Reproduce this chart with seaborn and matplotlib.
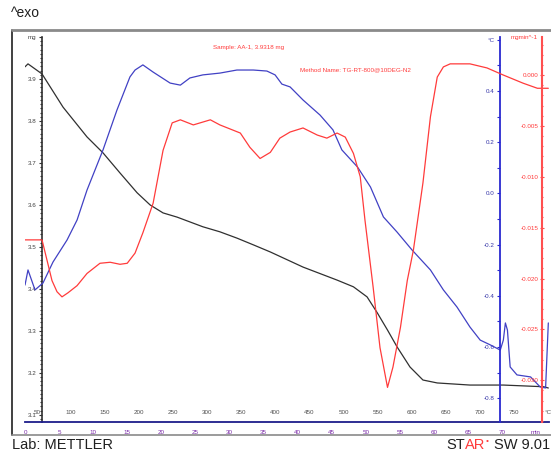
import matplotlib
matplotlib.use("Agg")
import matplotlib.pyplot as plt
import matplotlib.ticker as mticker
from matplotlib.lines import Line2D
import seaborn as sns

# TG curve (black, mg) against time in min
tg_time = [0.0, 0.44, 2.5, 5.58, 9.1, 11.45, 13.95, 16.45, 18.36, 20.26, 22.32,
           26.1, 28.6, 31.1, 33.5, 36.0, 40.8, 45.8, 48.2, 50.2, 51.7, 53.2,
           54.6, 56.5, 58.4, 60.5, 65.3, 70.2, 76.1, 76.8]
tg_mass = [3.929, 3.936, 3.912, 3.833, 3.762, 3.724, 3.676, 3.629, 3.600, 3.581,
           3.571, 3.548, 3.536, 3.521, 3.505, 3.488, 3.452, 3.421, 3.405, 3.381,
           3.343, 3.302, 3.262, 3.214, 3.183, 3.176, 3.171, 3.171, 3.167, 3.164]

# blue curve (°C axis)
dsc_time = [0.0, 0.44, 1.47, 2.64, 4.11, 6.17, 7.64, 9.1, 11.45, 13.5, 15.4,
            16.15, 17.3, 18.8, 21.3, 22.8, 24.2, 26.1, 28.6, 31.1, 33.5, 35.5,
            36.7, 37.7, 38.9, 40.8, 43.3, 45.2, 46.5, 48.8, 50.7, 52.6, 54.6,
            56.8, 59.5, 61.4, 63.4, 65.3, 66.8, 68.3, 69.75, 70.2, 70.5, 70.8,
            71.2, 72.2, 74.2, 75.6, 76.4, 76.8]
dsc_signal = [-0.358, -0.299, -0.377, -0.350, -0.268, -0.182, -0.104, 0.013,
              0.170, 0.326, 0.455, 0.482, 0.502, 0.474, 0.431, 0.423, 0.451,
              0.463, 0.470, 0.482, 0.482, 0.478, 0.463, 0.427, 0.416, 0.365,
              0.306, 0.248, 0.170, 0.103, 0.025, -0.092, -0.151, -0.221, -0.299,
              -0.377, -0.444, -0.522, -0.573, -0.592, -0.612, -0.573, -0.506,
              -0.534, -0.678, -0.709, -0.717, -0.756, -0.760, -0.506]

# DTG curve (red, mg/min)
dtg_time = [0.0, 2.5, 3.23, 3.96, 4.70, 5.43, 6.31, 7.64, 9.10, 11.0, 12.5,
            13.95, 15.0, 16.15, 17.3, 18.8, 20.26, 21.6, 22.8, 24.7, 27.2, 28.6,
            31.6, 33.0, 34.5, 36.0, 37.4, 38.9, 40.8, 42.9, 44.3, 45.8, 47.0,
            48.2, 49.2, 49.9, 51.1, 52.1, 53.2, 54.0, 55.1, 56.1, 57.0, 58.4,
            59.5, 60.5, 61.4, 62.4, 65.3, 67.8, 70.2, 73.1, 75.2, 76.8]
dtg_rate = [-0.0162, -0.0162, -0.0182, -0.0202, -0.0213, -0.0218, -0.0214,
            -0.0207, -0.0195, -0.0185, -0.0184, -0.0186, -0.0185, -0.0175,
            -0.0155, -0.0126, -0.0074, -0.0047, -0.0044, -0.0049, -0.0044,
            -0.0049, -0.0057, -0.0071, -0.0082, -0.0076, -0.0062, -0.0056,
            -0.0052, -0.0059, -0.0062, -0.0057, -0.0061, -0.0077, -0.0100,
            -0.0143, -0.0209, -0.0268, -0.0307, -0.0287, -0.0248, -0.0202,
            -0.0172, -0.0106, -0.0041, -0.0002, 0.0008, 0.0011, 0.0011, 0.0007,
            0.0, -0.0008, -0.0013, -0.0013]

temp_ticks = [50, 100, 150, 200, 250, 300, 350, 400, 450, 500, 550, 600, 650,
              700, 750, 800]
min_ticks = [0, 5, 10, 15, 20, 25, 30, 35, 40, 45, 50, 55, 60, 65, 70, 75]

sns.set_style("white")
plt.rcParams['font.family'] = ['Liberation Sans', 'DejaVu Sans']

W, H = 551, 453
fig = plt.figure(figsize=(W / 100, H / 100), dpi=100)
ax = fig.add_axes([25 / W, 1 - 422 / H, 524 / W, 385 / H])
ax2 = ax.twinx()
ax3 = ax.twinx()
for a in (ax, ax2, ax3):
    for s in a.spines.values():
        s.set_visible(False)
ax.patch.set_visible(False)

black, blue, red, navy, purple = '#303030', '#4141c4', '#ff3b3b', '#1c1c8a', '#7a2aa8'

sns.lineplot(x=tg_time, y=tg_mass, ax=ax, color=black, linewidth=0.9, sort=False)
sns.lineplot(x=dsc_time, y=dsc_signal, ax=ax2, color=blue, linewidth=0.9, sort=False)
sns.lineplot(x=dtg_time, y=dtg_rate, ax=ax3, color=red, linewidth=0.9, sort=False)

ax.set_xlim(0, 76.9)
ax.set_ylim(3.083, 4.0)
ax2.set_ylim(-0.893, 0.611)
ax3.set_ylim(-0.0341, 0.00374)
for a in (ax, ax2, ax3):
    a.set_xlabel('')
    a.set_ylabel('')

# mg axis
ax.spines['left'].set_visible(True)
ax.spines['left'].set_position(('data', 2.5))
ax.spines['left'].set_color(black)
ax.spines['left'].set_linewidth(1.2)
ax.yaxis.set_major_locator(mticker.MultipleLocator(0.1))
ax.yaxis.set_minor_locator(mticker.MultipleLocator(0.01))
ax.yaxis.set_major_formatter(mticker.FuncFormatter(
    lambda v, p: 'mg' if abs(v - 4.0) < 1e-6 else f'{v:.1f}'))
ax.tick_params(axis='y', which='both', left=True, direction='out', color=black,
               labelsize=4.5, labelcolor='#404040', pad=1.5)
ax.tick_params(axis='y', which='major', length=2.5, width=0.8)
ax.tick_params(axis='y', which='minor', length=1.5, width=0.8)

# blue axis
ax2.spines['left'].set_visible(True)
ax2.spines['left'].set_position(('data', 69.75))
ax2.spines['left'].set_color('#2a2ad0')
ax2.spines['left'].set_linewidth(1.3)
ax2.yaxis.set_ticks_position('left')
ax2.yaxis.set_label_position('left')
ax2.yaxis.set_major_locator(mticker.MultipleLocator(0.2))
ax2.yaxis.set_minor_locator(mticker.MultipleLocator(0.1))
ax2.yaxis.set_major_formatter(mticker.FuncFormatter(
    lambda v, p: '°C' if abs(v - 0.6) < 1e-6 else f'{v:.1f}'))
ax2.tick_params(axis='y', which='both', direction='out', color='#2a2ad0',
                labelsize=4.5, labelcolor='#3535a8', pad=1.5, width=0.8)
ax2.tick_params(axis='y', which='major', length=2.5)
ax2.tick_params(axis='y', which='minor', length=2.5)

# red axis
ax3.spines['left'].set_visible(True)
ax3.spines['left'].set_position(('data', 75.9))
ax3.spines['left'].set_color('#ff5050')
ax3.spines['left'].set_linewidth(1.5)
ax3.yaxis.set_ticks_position('left')
ax3.yaxis.set_major_locator(mticker.MultipleLocator(0.005))
ax3.yaxis.set_minor_locator(mticker.MultipleLocator(0.001))
ax3.yaxis.set_major_formatter(mticker.FuncFormatter(lambda v, p: f'{v:.3f}'))
ax3.tick_params(axis='y', which='both', direction='inout', color='#ff5050',
                labelsize=4.5, labelcolor=red, pad=1.0, width=0.8)
ax3.tick_params(axis='y', which='major', length=3)
ax3.tick_params(axis='y', which='minor', length=2)

# time axis
ax.spines['bottom'].set_visible(True)
ax.spines['bottom'].set_color(navy)
ax.spines['bottom'].set_linewidth(1.3)
ax.set_xticks(min_ticks)
ax.xaxis.set_minor_locator(mticker.MultipleLocator(1))
ax.xaxis.set_major_formatter(mticker.FuncFormatter(
    lambda v, p: 'min' if v >= 75 else f'{v:.0f}'))
ax.tick_params(axis='x', which='both', direction='inout', color=navy,
               labelsize=4.5, labelcolor=purple, pad=3, width=0.8)
ax.tick_params(axis='x', which='major', length=5)
ax.tick_params(axis='x', which='minor', length=4)

# temperature labels
sec = ax.secondary_xaxis(0, functions=(lambda t: 32.5 + 10 * t,
                                       lambda T: (T - 32.5) / 10))
sec.set_xticks(temp_ticks)
sec.xaxis.set_major_formatter(mticker.FuncFormatter(
    lambda v, p: '°C' if v >= 800 else f'{v:.0f}'))
for s in sec.spines.values():
    s.set_visible(False)
sec.tick_params(axis='x', which='both', top=True, bottom=False, labeltop=True,
                labelbottom=False, length=0, pad=5, labelsize=4.5,
                labelcolor='#505050')

# frame and texts
fig.add_artist(Line2D([12 / W, 12 / W], [1 - 30 / H, 1 - 435 / H],
                      transform=fig.transFigure, color='#202020', lw=1.2))
fig.add_artist(Line2D([12 / W, 1], [1 - 30 / H, 1 - 30 / H],
                      transform=fig.transFigure, color='#8a8a8a', lw=2.0))
fig.add_artist(Line2D([12 / W, 1], [1 - 435 / H, 1 - 435 / H],
                      transform=fig.transFigure, color='#8a8a8a', lw=1.2))

fig.text(11 / W, 1 - 13 / H, '^exo', fontsize=10, va='center', ha='left', color='#202020')
fig.text(12 / W, 1 - 445 / H, 'Lab: METTLER', fontsize=10.5, va='center', ha='left', color='#202020')
fig.text(213 / W, 1 - 47 / H, 'Sample: AA-1, 3.9318 mg', fontsize=4.5, color=red, va='center')
fig.text(300 / W, 1 - 70 / H, 'Method Name: TG-RT-800@10DEG-N2', fontsize=4.5, color=red, va='center')
fig.text(538 / W, 1 - 38 / H, 'mgmin^-1', fontsize=4.5, color=red, va='center', ha='right')

# STARe SW 9.01, chained from the right edge
s_sw = fig.text(550 / W, 1 - 445 / H, 'SW 9.01', fontsize=10.5, va='center', ha='right',
                color='#202020')
s_ar = ax.annotate('AR', xy=(0, 0), xycoords=s_sw, xytext=(-6, 0),
                   textcoords='offset points', va='bottom', ha='right', fontsize=10.5,
                   color=red, annotation_clip=False)
ax.annotate('•', xy=(1, 0.5), xycoords=s_ar, xytext=(0.3, 0),
            textcoords='offset points', va='bottom', ha='left', fontsize=6,
            color=red, annotation_clip=False)
ax.annotate('ST', xy=(0, 0), xycoords=s_ar, va='bottom', ha='right', fontsize=10.5,
            color='#202020', annotation_clip=False)

fig.savefig('out.png', dpi=100, facecolor='white')
